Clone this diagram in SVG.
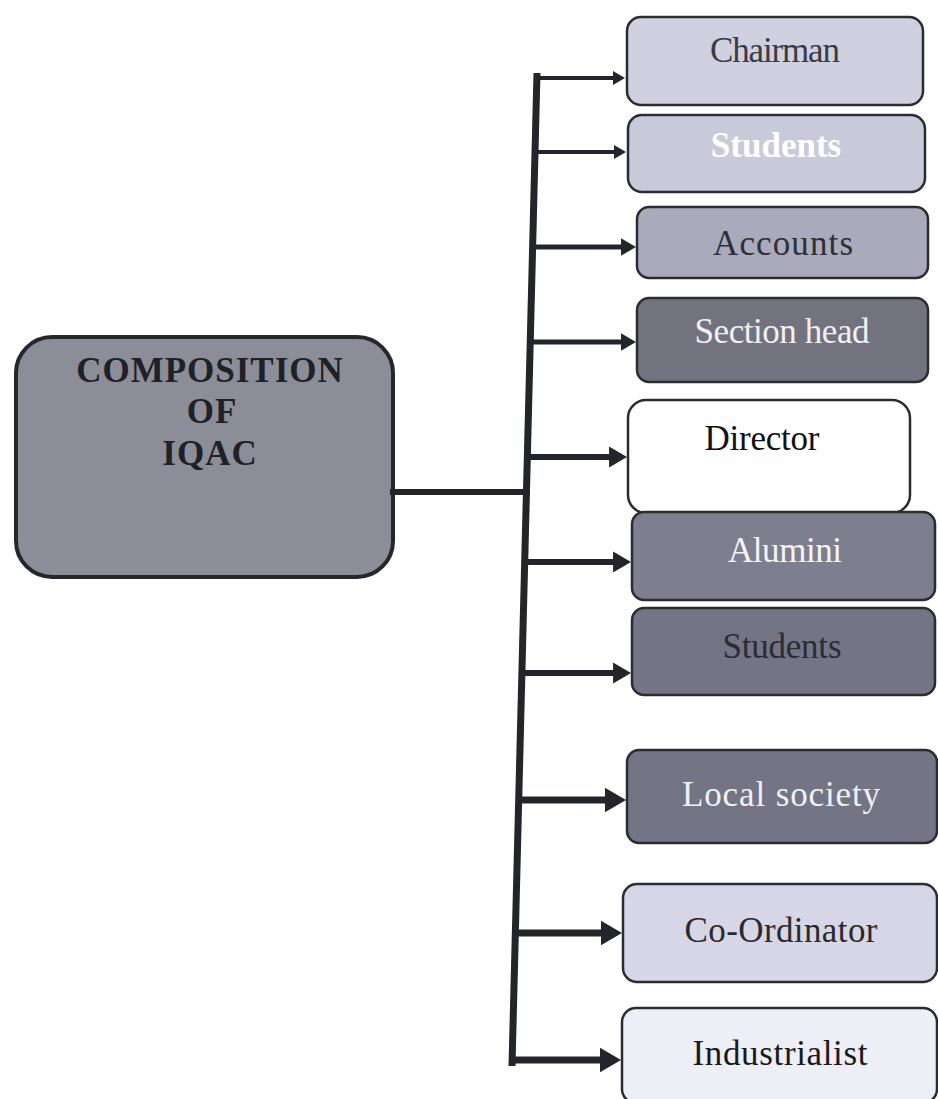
<svg xmlns="http://www.w3.org/2000/svg" width="938" height="1099" viewBox="0 0 938 1099">
<defs>
<marker id="ah" viewBox="0 0 12 14" refX="0.5" refY="7" markerWidth="3" markerHeight="3.6" markerUnits="strokeWidth" orient="auto">
<path d="M0,0 L12,7 L0,14 z" fill="#22262b"/>
</marker>
</defs>
<style>
.box{stroke:#2a2c31;stroke-width:2.5}
.lbl{font-family:"Liberation Serif","Times New Roman",serif;font-size:35px;text-anchor:middle}
.main{font-family:"Liberation Serif","Times New Roman",serif;font-size:35px;font-weight:bold;text-anchor:middle;fill:#1f2126;letter-spacing:1px}
.conn{stroke:#22262b;fill:none}
.arr{stroke:#22262b;fill:none;marker-end:url(#ah)}
</style>
<rect width="938" height="1099" fill="#ffffff"/>
<g id="main">
<rect x="16" y="337" width="377" height="240" rx="36" fill="#8b8d98" stroke="#25272b" stroke-width="4"/>
<text class="main" x="210" y="382">COMPOSITION</text>
<text class="main" x="212" y="423">OF</text>
<text class="main" x="210" y="465">IQAC</text>
</g>
<g id="connectors">
<line class="conn" x1="390" y1="492" x2="530" y2="492" stroke-width="6"/>
<line class="conn" x1="537" y1="73" x2="512" y2="1066" stroke-width="7"/>
<line class="arr" x1="537" y1="78" x2="613.5" y2="78" stroke-width="4"/>
<line class="arr" x1="535" y1="152" x2="614.5" y2="152" stroke-width="4"/>
<line class="arr" x1="533" y1="247" x2="621.6" y2="247" stroke-width="5"/>
<line class="arr" x1="531" y1="342" x2="621.6" y2="342" stroke-width="5"/>
<line class="arr" x1="528" y1="457" x2="609.8" y2="457" stroke-width="6"/>
<line class="arr" x1="526" y1="562" x2="613.8" y2="562" stroke-width="6"/>
<line class="arr" x1="523" y1="673" x2="613.8" y2="673" stroke-width="6"/>
<line class="arr" x1="520" y1="800" x2="605.9" y2="800" stroke-width="7"/>
<line class="arr" x1="517" y1="933" x2="601.9" y2="933" stroke-width="7"/>
<line class="arr" x1="513" y1="1060" x2="600.9" y2="1060" stroke-width="7"/>
</g>
<g id="chairman">
<rect class="box" x="627" y="17" width="296" height="88" rx="14" fill="#cfd0e0"/>
<text class="lbl" x="775" y="62" fill="#3a3c44" textLength="130">Chairman</text>
</g>
<g id="students1">
<rect class="box" x="628" y="115" width="297" height="77" rx="14" fill="#c9cad9"/>
<text class="lbl" x="776" y="157" fill="#ffffff" font-weight="bold" font-size="30">Students</text>
</g>
<g id="accounts">
<rect class="box" x="637" y="207" width="291" height="71" rx="12" fill="#a9abbd"/>
<text class="lbl" x="783" y="255" fill="#2e3038" textLength="140">Accounts</text>
</g>
<g id="section-head">
<rect class="box" x="637" y="298" width="291" height="84" rx="12" fill="#72737f"/>
<text class="lbl" x="782" y="343" fill="#f0f0f4" textLength="175">Section head</text>
</g>
<g id="director">
<rect class="box" x="628" y="400" width="282" height="113" rx="18" fill="#fefefe"/>
<text class="lbl" x="762" y="450" fill="#111111" textLength="115">Director</text>
</g>
<g id="alumini">
<rect class="box" x="632" y="512" width="303" height="88" rx="12" fill="#7d7f8e"/>
<text class="lbl" x="785" y="562" fill="#f4f4f6" textLength="114">Alumini</text>
</g>
<g id="students2">
<rect class="box" x="632" y="608" width="303" height="87" rx="12" fill="#737584"/>
<text class="lbl" x="782" y="658" fill="#2a2c34" textLength="119">Students</text>
</g>
<g id="local-society">
<rect class="box" x="627" y="750" width="310" height="93" rx="12" fill="#737585"/>
<text class="lbl" x="781" y="806" fill="#f0f0f4" textLength="198">Local society</text>
</g>
<g id="co-ordinator">
<rect class="box" x="623" y="884" width="314" height="98" rx="14" fill="#d6d6e6"/>
<text class="lbl" x="781" y="942" fill="#2a2a2e" textLength="193">Co-Ordinator</text>
</g>
<g id="industrialist">
<rect class="box" x="622" y="1008" width="315" height="95" rx="14" fill="#eeeef6"/>
<text class="lbl" x="780" y="1065" fill="#1a1a1c" textLength="175">Industrialist</text>
</g>
</svg>
